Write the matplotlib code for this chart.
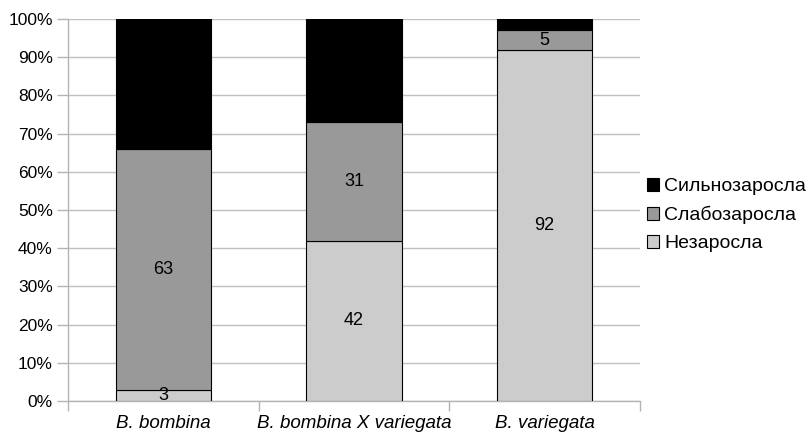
import matplotlib
matplotlib.use("Agg")
import matplotlib.pyplot as plt
import numpy as np

plt.rcParams['font.family'] = ['Liberation Sans', 'DejaVu Sans']

categories = ["B. bombina", "B. bombina X variegata", "B. variegata"]
series_names = ["Незаросла", "Слабозаросла", "Сильнозаросла"]
nezarosla = [3, 42, 92]
slabozarosla = [63, 31, 5]
silnozarosla = [34, 27, 3]
colors = ["#cccccc", "#999999", "#000000"]
yticks = [0, 10, 20, 30, 40, 50, 60, 70, 80, 90, 100]
ytick_labels = [f"{v}%" for v in yticks]

fig = plt.figure(figsize=(8.11, 4.32), dpi=100)
ax = fig.add_axes([68 / 811, 1 - 401 / 432, (640 - 68) / 811, (401 - 19) / 432])

x = np.arange(len(categories))
series = [nezarosla, slabozarosla, silnozarosla]
totals = np.sum(series, axis=0)
bottom = np.zeros(len(categories))
bars = []
for name, vals, col in zip(series_names, series, colors):
    pct = np.array(vals) / totals * 100
    b = ax.bar(x, pct, 0.5, bottom=bottom, color=col, edgecolor="black",
               linewidth=0.8, label=name, zorder=3)
    bars.append(b)
    for xi, bi, pi, v in zip(x, bottom, pct, vals):
        ax.text(xi, bi + pi / 2, str(v), ha="center", va="center",
                fontsize=13, color="#000000", zorder=4, clip_on=True)
    bottom = bottom + pct

ax.set_xlim(-0.5, len(categories) - 0.5)
ax.set_ylim(0, 100)
ax.set_yticks(yticks)
ax.set_yticklabels(ytick_labels, fontsize=12.5)
ax.yaxis.grid(True, color="#c0c0c0", linewidth=1, zorder=0)
ax.tick_params(axis="y", length=8, color="#b3b3b3", width=1, pad=3)

# category separators as x ticks; labels as minor ticks
ax.set_xticks(np.arange(len(categories) + 1) - 0.5)
ax.set_xticklabels([])
ax.set_xticks(x, minor=True)
ax.set_xticklabels(categories, minor=True, fontsize=13.5, style="italic")
ax.tick_params(axis="x", which="major", length=7, color="#b3b3b3", width=1)
ax.tick_params(axis="x", which="minor", length=0, pad=10)

for side in ["top", "right"]:
    ax.spines[side].set_visible(False)
for side in ["left", "bottom"]:
    ax.spines[side].set_color("#b3b3b3")
    ax.spines[side].set_linewidth(1)

handles = [bars[2], bars[1], bars[0]]
leg = fig.legend(handles, [series_names[2], series_names[1], series_names[0]],
                 loc="center left", bbox_to_anchor=(637 / 811, 1 - 215 / 432),
                 frameon=False, fontsize=14, handlelength=0.65, handleheight=0.65,
                 handletextpad=0.25, labelspacing=0.55, borderpad=0)

fig.savefig("out.png", dpi=100)
